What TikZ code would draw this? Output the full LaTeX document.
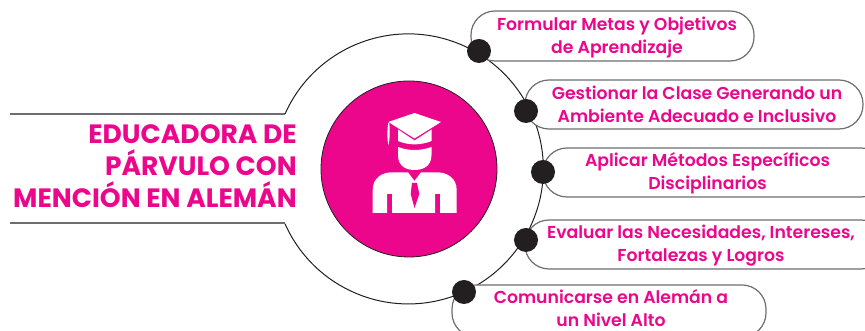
\documentclass[tikz,border=0pt]{standalone}
\usepackage{fontspec}
\setmainfont{Lato}
\newfontfamily\labfont[Ligatures=NoCommon]{Poppins SemiBold}
\newfontfamily\titfont{Poppins Bold}
\definecolor{mag}{HTML}{EC068C}
\definecolor{ink}{HTML}{231F20}
\definecolor{pillline}{HTML}{6D6E71}
\tikzset{
  x=0.75pt,y=0.75pt,
  ring/.style={draw=ink,line width=0.75pt},
  rule/.style={draw=pillline,line width=0.9pt},
  pill/.style={draw=pillline,line width=0.9pt,fill=white,rounded corners=18pt},
  dot/.style={circle,fill=ink,minimum size=18pt,inner sep=0pt},
  label/.style={text=mag,font=\labfont\fontsize{12.95}{17.25}\selectfont,align=center},
  title/.style={text=mag,font=\titfont\fontsize{19.9}{24}\selectfont,align=right,anchor=east,inner sep=0pt},
  icon/.style={fill=white,draw=none}
}
\begin{document}
\begin{tikzpicture}
\useasboundingbox (0,0) rectangle (865,331);
\clip (0,0) rectangle (865,331);
\node[circle,fill=mag,draw=ink,line width=0.6pt,minimum size=132pt,inner sep=0pt] (hub) at (409,162) {};
\coordinate (ringtop) at (285,217);
\coordinate (ringbot) at (285,108);
\coordinate (ruletop) at (10,217);
\coordinate (rulebot) at (10,108);
\draw[rule] (ruletop) -- (ringtop);
\draw[rule] (rulebot) -- (ringbot);
\draw[ring] (ringtop) arc[start angle=156,end angle=-156,radius=101.25pt];
\draw[pill] (471,320) rectangle (754,270);
\draw[pill] (525,251) rectangle (863,202);
\draw[pill] (543,183) rectangle (885,134);
\draw[pill] (525,111) rectangle (885,62);
\draw[pill] (452,46) rectangle (766,-6);
\node[dot] (d1) at (479,280) {};
\node[dot] (d2) at (526,220) {};
\node[dot] (d3) at (543,159) {};
\node[dot] (d4) at (526,91) {};
\node[dot] (d5) at (464,39) {};
\node[label] (t1) at (617,293) {Formular Metas y Objetivos\\de Aprendizaje};
\node[label] (t2) at (697,227) {Gestionar la Clase Generando un\\Ambiente Adecuado e Inclusivo};
\node[label] (t3) at (707.5,158) {Aplicar Métodos Específicos\\Disciplinarios};
\node[label] (t4) at (701,85) {Evaluar las Necesidades, Intereses,\\Fortalezas y Logros};
\node[label] (t5) at (611,23) {Comunicarse en Alemán a\\un Nivel Alto};
\node[title] (main) at (297,164.5) {EDUCADORA DE\\PÁRVULO CON\\MENCIÓN EN ALEMÁN};
% icon
\fill[icon] (388.3,209) -- (414.5,218) -- (441,209) -- (414.5,192.5) -- cycle;
\fill[icon] (398,201.5) -- (414.5,190.5) -- (431.5,201.5) -- (431.5,190) .. controls (420,185.5) and (409,185.5) .. (398,190) -- cycle;
\fill[icon] (398,184) .. controls (409,180) and (420,180) .. (431.5,184) -- (431.5,176) .. controls (431.5,164) and (422,161) .. (414.5,161) .. controls (407,161) and (398,164) .. (398,176) -- cycle;
\fill[icon] (388.3,208) .. controls (387,200) and (387,192) .. (388.5,186) .. controls (390,192) and (390,200) .. (389.3,208) -- cycle;
\fill[icon] (372.7,118) -- (372.7,141) .. controls (372.7,153) and (382,158.7) .. (392,158.7) -- (408,158.7) -- (414.5,150) -- (421,158.7) -- (437,158.7) .. controls (447,158.7) and (456.7,153) .. (456.7,141) -- (456.7,118) -- (440,118) -- (440,137) -- (435,137) -- (435,118) -- (392,118) -- (392,137) -- (387,137) -- (387,118) -- cycle;
\fill[mag] (412,148) -- (417,148) -- (419.3,137) -- (414.5,123) -- (410.7,137) -- cycle;
\end{tikzpicture}
\end{document}
